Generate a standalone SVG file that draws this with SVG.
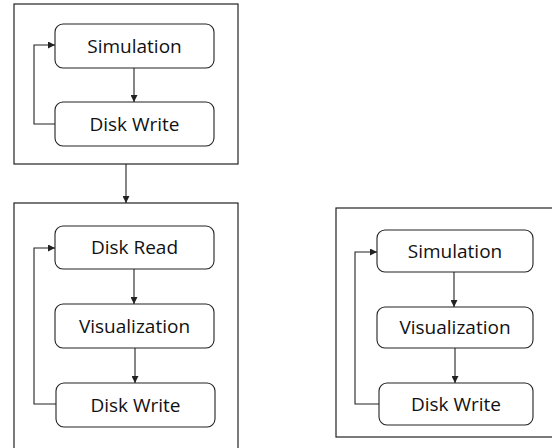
<svg xmlns="http://www.w3.org/2000/svg" width="552" height="448" viewBox="0 0 552 448">
<style>
.outer{fill:none;stroke:#222;stroke-width:1.2}
.node{fill:#fff;stroke:#222;stroke-width:1.1}
.lbl{font-family:"Open Sans","Liberation Sans",sans-serif;font-size:19px;fill:#111;text-anchor:middle}
.conn{fill:none;stroke:#222;stroke-width:1.1}
</style>
<defs>
<marker id="ah" viewBox="0 0 10 10" refX="10" refY="5" markerWidth="7" markerHeight="7" markerUnits="userSpaceOnUse" orient="auto">
<path d="M0,0 L10,5 L0,10 z" fill="#222"/>
</marker>
</defs>
<rect width="552" height="448" fill="#fff"/>
<g id="container-1"><rect class="outer" x="14" y="4" width="224" height="160"/></g>
<g id="container-2"><rect class="outer" x="14" y="203" width="224" height="250"/></g>
<g id="container-3"><rect class="outer" x="336" y="208" width="220" height="229"/></g>
<g id="n1"><rect class="node" x="55" y="24" width="159" height="44" rx="8"/><text class="lbl" x="134.5" y="53">Simulation</text></g>
<g id="n2"><rect class="node" x="55" y="102" width="159" height="44" rx="8"/><text class="lbl" x="134.5" y="131">Disk Write</text></g>
<g id="n3"><rect class="node" x="55" y="226" width="159" height="43" rx="8"/><text class="lbl" x="134.5" y="254">Disk Read</text></g>
<g id="n4"><rect class="node" x="55" y="304" width="159" height="44" rx="8"/><text class="lbl" x="134.5" y="333">Visualization</text></g>
<g id="n5"><rect class="node" x="56" y="383" width="159" height="44" rx="8"/><text class="lbl" x="135.5" y="412">Disk Write</text></g>
<g id="n6"><rect class="node" x="377" y="230" width="156" height="42" rx="8"/><text class="lbl" x="455" y="258">Simulation</text></g>
<g id="n7"><rect class="node" x="377" y="307" width="156" height="41" rx="8"/><text class="lbl" x="455" y="334">Visualization</text></g>
<g id="n8"><rect class="node" x="379" y="383" width="154" height="42" rx="8"/><text class="lbl" x="456" y="411">Disk Write</text></g>
<g id="connectors">
<line class="conn" x1="134" y1="68" x2="134" y2="102" marker-end="url(#ah)"/>
<polyline class="conn" points="55,124 34,124 34,45 55,45" marker-end="url(#ah)"/>
<line class="conn" x1="126" y1="164" x2="126" y2="203" marker-end="url(#ah)"/>
<line class="conn" x1="134" y1="269" x2="134" y2="304" marker-end="url(#ah)"/>
<line class="conn" x1="135" y1="348" x2="135" y2="383" marker-end="url(#ah)"/>
<polyline class="conn" points="56,404 34,404 34,248 55,248" marker-end="url(#ah)"/>
<line class="conn" x1="454" y1="272" x2="454" y2="307" marker-end="url(#ah)"/>
<line class="conn" x1="455" y1="348" x2="455" y2="383" marker-end="url(#ah)"/>
<polyline class="conn" points="379,404 355,404 355,252 377,252" marker-end="url(#ah)"/>
</g>
</svg>
